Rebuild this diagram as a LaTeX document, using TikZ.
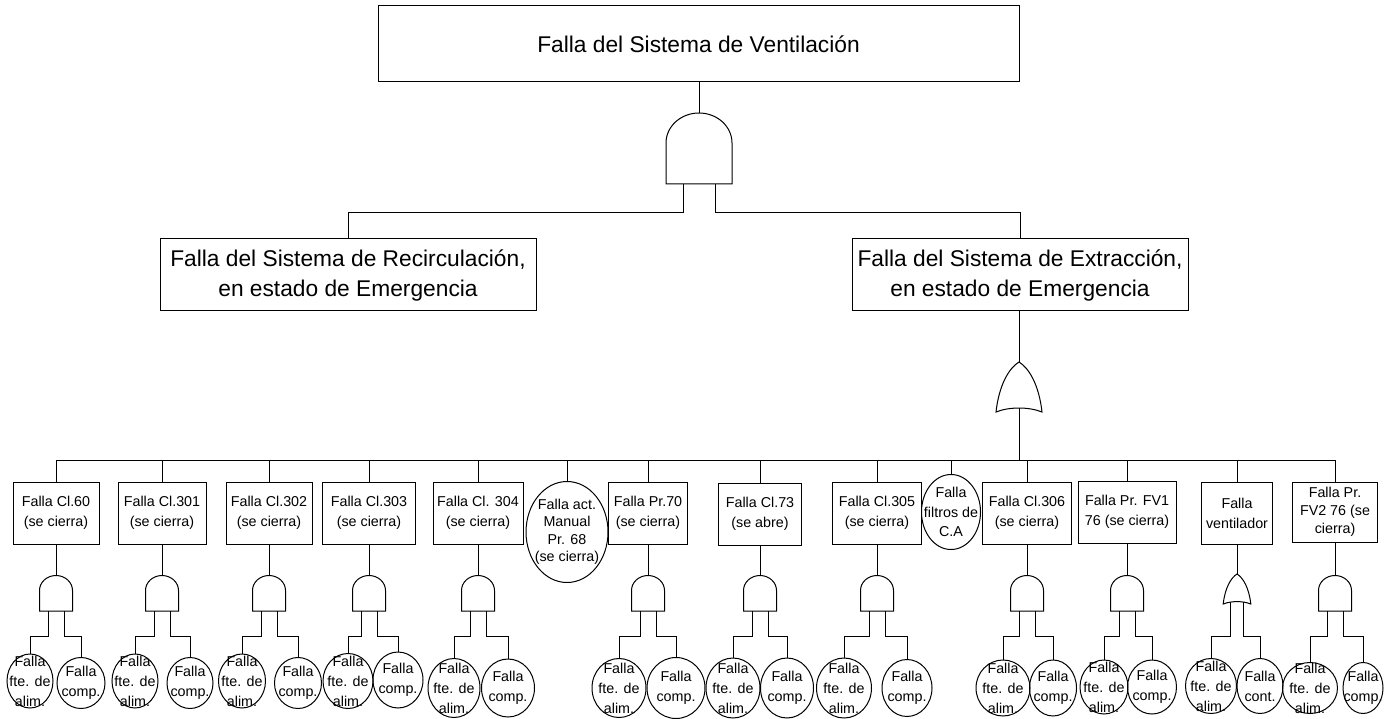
\documentclass[tikz,border=0pt]{standalone}
\usepackage{fontspec}
\setmainfont{Liberation Sans}
\usetikzlibrary{shapes.geometric}
\tikzset{
  line/.style={draw=black, line width=1pt},
  gate/.style={draw=black, line width=1pt, fill=white},
  bigbox/.style={draw, line width=1pt, rectangle, inner sep=0pt, align=center, font=\fontsize{22.75}{30}\selectfont},
  fbox/.style={draw, line width=1pt, rectangle, inner sep=0pt, align=center, minimum height=62pt, font=\fontsize{14.3}{20}\selectfont},
  ev/.style={draw, line width=1pt, ellipse, inner sep=0pt},
  evt/.style={inner sep=0pt, align=center, font=\fontsize{14.3}{20}\selectfont},
  andg/.pic={
    \draw[gate] (-33,0) -- (-33,-41) .. controls (-33,-57.6) and (-18.2,-71) .. (0,-71)
      .. controls (18.2,-71) and (33,-57.6) .. (33,-41) -- (33,0) -- cycle;
    \coordinate (-in) at (0,-71);
    \coordinate (-l) at (-16,0);
    \coordinate (-r) at (16,0);
  },
  org/.pic={
    \draw[gate] (-23,0) .. controls (-20,-27) and (-10,-44) .. (0,-50)
      .. controls (10,-44) and (20,-27) .. (23,0)
      .. controls (10,-5.3) and (-10,-5.3) .. (-23,0) -- cycle;
    \coordinate (-in) at (0,-50);
    \coordinate (-out) at (0,-4);
    \coordinate (-l) at (-11.5,-3.2);
    \coordinate (-r) at (11.5,-3.2);
  }
}
\begin{document}
\begin{tikzpicture}[x=1pt,y=-1pt]
\useasboundingbox (0,0) rectangle (1392,719);

% top level
\node[bigbox, minimum width=641pt, minimum height=76pt] (T) at (698.5,44) {Falla del Sistema de Ventilación};
\pic (g0) at (699,184) {andg};
\node[bigbox, minimum width=376pt, minimum height=72pt] (L) at (348,275) {Falla del Sistema de Recirculación,\\en estado de Emergencia};
\node[bigbox, minimum width=336pt, minimum height=72pt] (R) at (1020,275) {Falla del Sistema de Extracción,\\en estado de Emergencia};
\draw[line] (g0-in) -- (g0-in |- T.south);
\draw[line] (g0-l) -- ++(0,29) -| (L.north);
\draw[line] (g0-r) -- ++(0,29) -| (R.north);
\pic (gor) at (1019,412) {org};
\draw[line] (gor-in |- R.south) -- (gor-in);

% second row
\node[fbox, minimum width=86pt] (B1) at (56,513) {Falla Cl.60\\(se cierra)};
\node[fbox, minimum width=88pt] (B2) at (162,513) {Falla Cl.301\\(se cierra)};
\node[fbox, minimum width=86pt] (B3) at (269,513) {Falla Cl.302\\(se cierra)};
\node[fbox, minimum width=93pt] (B4) at (369,513) {Falla Cl.303\\(se cierra)};
\node[fbox, minimum width=90pt] (B5) at (478,513) {Falla Cl. 304\\(se cierra)};
\node[ev, minimum width=82pt, minimum height=101pt] (B6) at (567,532) {};
\node[evt, font=\fontsize{14.3}{17.5}\selectfont] (B6t) at (B6.center) {Falla act.\\Manual\\Pr. 68\\(se cierra)};
\node[fbox, minimum width=79pt] (B7) at (648,513) {Falla Pr.70\\(se cierra)};
\node[fbox, minimum width=83pt] (B8) at (760,514) {Falla Cl.73\\(se abre)};
\node[fbox, minimum width=89pt] (B9) at (877,513) {Falla Cl.305\\(se cierra)};
\node[ev, minimum width=59pt, minimum height=75pt] (B10) at (951,512) {};
\node[evt, font=\fontsize{14.3}{19.5}\selectfont] (B10t) at (B10.center) {Falla\\filtros de\\C.A};
\node[fbox, minimum width=89pt] (B11) at (1027,513) {Falla Cl.306\\(se cierra)};
\node[fbox, minimum width=98pt] (B12) at (1127,512) {Falla Pr. FV1\\76 (se cierra)};
\node[fbox, minimum width=71pt] (B13) at (1237,513) {Falla\\ventilador};
\node[fbox, minimum width=85pt, minimum height=60pt, font=\fontsize{14.3}{18}\selectfont] (B14) at (1335,512) {Falla Pr.\\FV2 76 (se\\cierra)};

% bus
\draw[line] (gor-out) -- ++(0,52) coordinate (busc);
\draw[line] (B1.north |- busc) -- (B14.north |- busc);
\foreach \n in {1,2,3,4,5,6,7,8,9,10,11,12,13,14}{
  \draw[line] (B\n.north) -- (B\n.north |- busc);
}

% AND columns
\foreach \n/\cx/\lx/\ly/\lw/\lh/\rx/\ry/\rw/\rh in {
  1/56/30/681/46/54/81/683/48/51,
  2/162/135/681/46/54/190/683/46/51,
  3/269/242/681/47/54/298/683/47/51,
  4/369/348/681/50/55/398/680/50/56,
  5/478/454/688/52/59/508/688/53/58,
  7/648/619/688/54/59/676/688/58/61,
  8/760/733/688/54/60/787/688/53/60,
  9/877/844/688/55/60/907/688/50/57,
  11/1027/1003/688/54/56/1053/688/47/56,
  12/1127/1104/687/48/54/1152/687/49/54,
  14/1335/1310/688/55/51/1363/688/40/51}{
  \pic[scale=0.5] (g\n) at (\cx,611) {andg};
  \node[ev, minimum width=\lw pt, minimum height=\lh pt] (C\n) at (\lx,\ly) {};
  \node[evt] (Ct\n) at (C\n.center) {Falla\\fte. de\\alim.};
  \node[ev, minimum width=\rw pt, minimum height=\rh pt] (D\n) at (\rx,\ry) {};
  \node[evt] (Dt\n) at (D\n.center) {Falla\\comp.};
  \draw[line] (B\n.south) -- (g\n-in);
  \draw[line] (g\n-l) -- ++(0,25) -| (C\n.north);
  \draw[line] (g\n-r) -- ++(0,25) -| (D\n.north);
}

% OR column (ventilador)
\pic[scale=0.6] (g13) at (1237,604) {org};
\node[ev, minimum width=51pt, minimum height=55pt] (C13) at (1211,686) {};
\node[evt] (Ct13) at (C13.center) {Falla\\fte. de\\alim.};
\node[ev, minimum width=46pt, minimum height=55pt] (D13) at (1260,686) {};
\node[evt] (Dt13) at (D13.center) {Falla\\cont.};
\draw[line] (B13.south) -- (g13-in);
\draw[line] (g13-l) -- ++(0,34) -| (C13.north);
\draw[line] (g13-r) -- ++(0,34) -| (D13.north);
\end{tikzpicture}
\end{document}
